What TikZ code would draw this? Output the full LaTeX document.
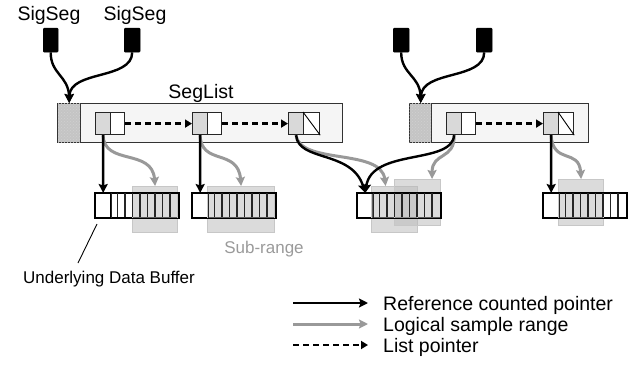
\documentclass[tikz,border=0pt]{standalone}
\usepackage{fontspec}
\setmainfont{Liberation Sans}
\usetikzlibrary{arrows.meta,patterns}
\definecolor{listfill}{HTML}{F5F5F5}
\definecolor{hatchfill}{HTML}{C4C4C4}
\definecolor{cellfill}{HTML}{D9D9D9}
\definecolor{arrgray}{HTML}{999999}
\definecolor{subtext}{HTML}{9A9A9A}
\tikzset{
  lst/.style={draw=black!80, fill=listfill, line width=1.4pt, inner sep=0pt, anchor=north west},
  hatchbox/.style={draw=black!80, fill=hatchfill, line width=1.4pt, inner sep=0pt, anchor=north west,
    postaction={pattern=crosshatch dots, pattern color=black!18}},
  celll/.style={draw=black!85, fill=cellfill, line width=1.2pt, minimum width=15pt, minimum height=22pt, inner sep=0pt, anchor=north west},
  cellr/.style={draw=black!85, fill=white, line width=1.2pt, minimum width=14pt, minimum height=22pt, inner sep=0pt, anchor=north west},
  sigbox/.style={draw=black, fill=black, minimum width=15pt, minimum height=24pt, inner sep=0pt, anchor=north west, rounded corners=1pt},
  bufhead/.style={draw=black, fill=white, line width=1.4pt, minimum width=15pt, minimum height=24pt, inner sep=0pt, anchor=north west},
  bufbody/.style={draw=black, fill=white, line width=1.4pt, minimum width=67.5pt, minimum height=24pt, inner sep=0pt, anchor=north west},
  subr/.style={draw=black!22, fill=black!28, fill opacity=0.5, line width=1.2pt, minimum width=45pt, minimum height=46pt, inner sep=0pt, anchor=north west},
  divline/.style={draw=black!85, line width=1.1pt},
  blk/.style={draw=black, line width=2.4pt, -{Stealth[length=9pt,width=9pt,inset=1.5pt]}},
  gry/.style={draw=arrgray, line width=3pt, -{Stealth[length=9pt,width=9pt,inset=1.5pt]}},
  lstp/.style={draw=black, line width=2.2pt, dash pattern=on 6pt off 4pt, -{Triangle[length=7pt,width=8pt]}},
  big/.style={font=\fontsize{19.5}{22}\selectfont, inner sep=0pt},
  small/.style={font=\fontsize{17}{20}\selectfont, inner sep=0pt},
}
\begin{document}
\begin{tikzpicture}[x=1pt,y=-1pt]
\useasboundingbox (0,0) rectangle (639,366);

% SegList containers
\node[lst, minimum width=285pt, minimum height=39pt] (sl1) at (57,103) {};
\node[hatchbox, minimum width=23pt, minimum height=39pt] (h1) at (57,103) {};
\node[lst, minimum width=179pt, minimum height=39pt] (sl2) at (409,103) {};
\node[hatchbox, minimum width=22pt, minimum height=39pt] (h2) at (409,103) {};

% cells
\node[celll] (c1l) at (95,112) {};  \node[cellr] (c1r) at (110,112) {};
\node[celll] (c2l) at (192,112) {}; \node[cellr] (c2r) at (207,112) {};
\node[celll] (c3l) at (288,112) {}; \node[cellr, minimum width=16pt] (c3r) at (303,112) {};
\node[celll] (c4l) at (446,112) {}; \node[cellr] (c4r) at (461,112) {};
\node[celll] (c5l) at (543,112) {}; \node[cellr, minimum width=15pt] (c5r) at (558,112) {};
\draw[line width=0.9pt] (c3r.north west) -- (c3r.south east);
\draw[line width=0.9pt] (c5r.north west) -- (c5r.south east);

% list pointers
\draw[lstp] (c1r.east) -- (c2l.west);
\draw[lstp] (c2r.east) -- (c3l.west);
\draw[lstp] (c4r.east) -- (c5l.west);

% SigSegs
\node[sigbox] (s1) at (43,28) {};
\node[sigbox, minimum width=16pt] (s2) at (124,28) {};
\node[sigbox, minimum width=16pt] (s3) at (393,28) {};
\node[sigbox, minimum width=16pt] (s4) at (476,28) {};
\node[big, anchor=base] (t1) at (49,20.5) {SigSeg};
\node[big, anchor=base] (t2) at (135,20.5) {SigSeg};
\node[big, anchor=base] (t3) at (201,98.5) {SegList};

\draw[blk] (s1.south) .. controls (50.5,74) and (68.5,76) .. (h1.north);
\draw[blk] (s2.south) .. controls (132,80) and (70,70) .. (h1.north);
\draw[blk] (s3.south) .. controls (401,74) and (420,76) .. (h2.north);
\draw[blk] (s4.south) .. controls (484,80) and (422,70) .. (h2.north);

% buffers
\foreach \n/\x in {1/95,2/192,3/357,4/543} {
  \node[bufhead] (b\n) at (\x,193) {};
  \node[bufbody] (bb\n) at (\x+15,193) {};
}

% sub-ranges
\node[subr] (r1) at (132,186) {};
\node[subr, minimum width=67pt] (r2) at (207,186) {};
\node[subr, minimum width=46pt] (r3a) at (371,186) {};
\node[subr, minimum width=46pt] (r3b) at (393.5,179) {};
\node[subr] (r4) at (558,179) {};

% buffer outlines and dividers on top
\foreach \n/\x in {1/95,2/192,3/357,4/543} {
  \draw[line width=1.4pt] (b\n.north west) rectangle (bb\n.south east);
  \draw[divline] (b\n.north east) -- (b\n.south east);
  \foreach \k in {1,...,8} {
    \draw[divline] (\x+15+7.5*\k,193) -- (\x+15+7.5*\k,217);
  }
}

% logical sample range arrows
\draw[gry] (c1l.south) .. controls (104,166) and (152,148) .. (r1.north);
\draw[gry] (c2l.south) .. controls (201,166) and (238,148) .. (r2.north);
\draw[gry] (c3l.south) .. controls (300,165) and (381,148) .. ([xshift=-9pt]r3a.north);
\draw[gry] (c4l.south) .. controls (455,160) and (432,152) .. ([xshift=15pt]r3b.north);
\draw[gry] (c5l.south) .. controls (553,165) and (579,148) .. (r4.north);

% reference counted pointers
\draw[blk] (c1l.south) -- (b1.north);
\draw[blk] (c2l.south) -- (b2.north);
\draw[blk] (c5l.south) -- (b4.north);
\draw[blk] (c3l.south) .. controls (298,162) and (352,150) .. (b3.north);
\draw[blk] (c4l.south) .. controls (452,165) and (372,148) .. (b3.north);

% labels
\node[small, anchor=base, text=subtext] (sub) at (264,253) {Sub-range};
\node[small, anchor=base] (udb) at (109,283) {Underlying Data Buffer};
\coordinate (u1) at (97,224);
\coordinate (u2) at (78,263);
\draw[line width=0.9pt] (u1) -- (u2);

% legend
\coordinate (la1) at (293,303); \coordinate (la2) at (368,303);
\coordinate (lb1) at (293,324); \coordinate (lb2) at (368,324);
\coordinate (lc1) at (293,345); \coordinate (lc2) at (368,345);
\draw[blk] (la1) -- (la2);
\draw[gry] (lb1) -- (lb2);
\draw[lstp] (lc1) -- (lc2);
\node[big, anchor=base west] (l1) at (383,310) {Reference counted pointer};
\node[big, anchor=base west] (l2) at (383,331) {Logical sample range};
\node[big, anchor=base west] (l3) at (383,352) {List pointer};
\end{tikzpicture}
\end{document}
